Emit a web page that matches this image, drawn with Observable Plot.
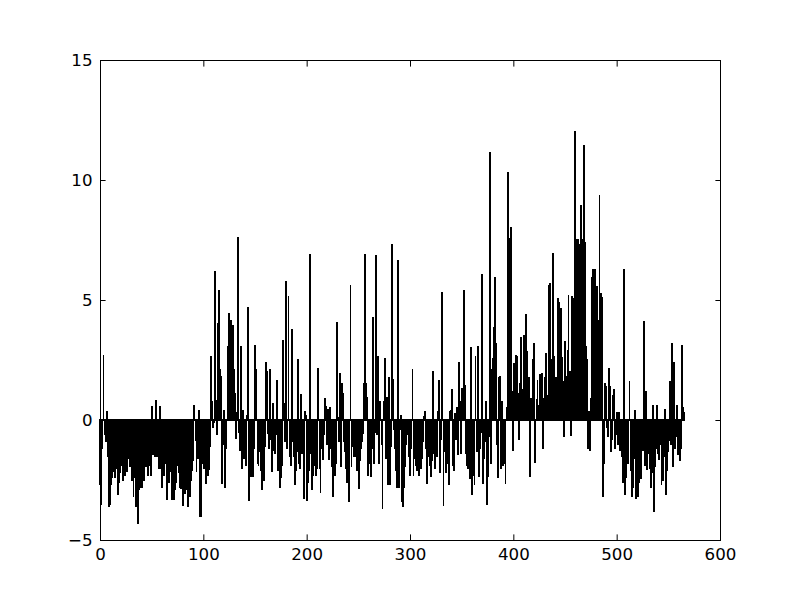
<!DOCTYPE html>
<html>
<head>
<meta charset="utf-8">
<script src="https://cdn.jsdelivr.net/npm/d3@7"></script>
<script src="https://cdn.jsdelivr.net/npm/@observablehq/plot@0.6"></script>
<style>
  html, body { margin: 0; padding: 0; background: #fff; }
  #chart { width: 800px; height: 600px; }
</style>
</head>
<body>
<div id="chart"></div>
<script>
const values = [
  -2.7, -3.5, -1.2, 2.7, -0.6, -0.9, 0.37, -1.5, -3.6, -3.5,
  -2.7, -2.4, -2.15, -1.3, -2.4, -2.0, -0.7, -3.1, -2.6, -2.2,
  -1.5, -1.9, -2.5, -1.8, -2.3, -1.2, -2.15, -1.6, -1.4, -1.95,
  -1.7, -2.5, -3.2, -2.4, -3.6, -2.9, -4.3, -2.9, -2.8, -2.2,
  -2.8, -2.4, -2.5, -1.6, -1.95, -1.9, -2.3, -0.7, -1.9, -2.3,
  0.55, -1.45, -1.1, -1.5, 0.8, -1.5, -0.55, -2.0, 0.55, -2.0,
  -2.8, -2.3, -2.3, -1.8, -3.3, -2.6, -2.6, -2.15, -1.7, -3.3,
  -3.05, -3.3, -2.9, -2.6, -1.9, -1.4, -2.2, -2.8, -2.85, -2.4,
  -3.55, -2.1, -3.05, -2.9, -2.4, -3.6, -2.0, -3.2, -2.5, -2.1,
  -1.7, 0.6, -0.85, -2.15, -1.6, 0.4, -4.0, -4.0, -1.4, -1.8,
  -2.0, -1.5, -2.65, -1.8, -2.3, -2.05, -1.1, 2.65, 0.75, -0.3,
  -0.1, 6.2, 0.8, -0.6, 4.0, 5.4, 2.1, 1.8, -2.65, -1.0,
  0.4, -2.8, -1.2, 3.05, 4.45, 2.8, 4.15, 1.5, 3.95, 2.1,
  1.1, -0.75, 0.3, 7.6, -0.5, -1.25, 3.05, -2.0, 0.4, -1.6,
  -0.85, -1.9, 0.2, 4.7, -3.35, -1.5, -2.35, -1.7, -2.35, -1.2,
  3.1, 2.1, -1.8, -1.9, -1.3, -2.1, -2.9, -1.6, -2.5, -1.1,
  2.4, 2.0, -0.55, -1.2, 2.1, -0.8, -2.15, 0.7, -1.25, -1.4,
  -0.6, 1.65, -2.1, -1.5, -2.8, -2.4, -1.9, 3.3, 0.7, -0.9,
  5.75, -1.2, 5.15, -1.5, -1.9, 3.75, -0.9, -1.5, -2.7, -2.1,
  -1.3, 2.5, -1.8, -2.0, 1.05, -1.4, -0.85, -3.25, 0.35, 0.2,
  -3.35, -2.6, -2.1, 6.9, -1.4, -2.9, -2.3, -1.5, -1.9, -2.3,
  -2.0, 2.15, -2.0, -3.0, -1.2, -1.65, -0.6, 0.9, 0.55, -1.0,
  0.45, -1.65, 0.5, -1.2, -1.95, -3.2, -1.1, -2.3, -1.8, 4.05,
  0.1, -0.9, 1.95, -1.95, 1.5, 1.1, -0.9, -1.3, -2.0, -2.6,
  -2.55, -3.4, 5.6, -1.95, -1.1, -1.5, -1.1, -1.5, -2.1, -1.4,
  -2.85, -1.7, -1.2, -0.9, -0.55, 1.5, 6.9, 1.5, 0.95, -2.3,
  -0.6, -1.8, -2.35, -1.2, 4.25, -1.8, -0.5, 6.85, -0.6, 2.65,
  -1.8, 0.75, -1.0, -3.7, 0.75, 2.55, -1.6, 0.95, -2.7, 1.75,
  -2.7, -1.1, 7.3, 1.7, -0.4, -1.2, -2.1, -2.8, 6.65, -2.8,
  -0.4, 0.2, -3.4, -3.6, -2.8, -1.95, -1.0, -0.4, -0.6, -1.5,
  -2.3, -1.2, 2.1, -2.3, -1.6, -1.9, -2.1, -1.4, -2.3, -1.7,
  -2.0, -1.6, -0.9, 0.15, 0.35, -1.2, -2.65, -1.5, -1.2, -1.9,
  -2.35, -1.7, 2.0, -1.4, -2.0, -0.9, -1.5, 0.35, 1.65, -2.2,
  -0.8, 5.3, -3.55, -1.3, -2.2, -1.8, -1.0, -2.7, 0.35, 0.4,
  1.25, -1.9, -2.1, 0.25, -0.8, 0.5, -1.45, 2.4, 0.75, -1.4,
  1.3, 0.6, 5.4, 1.45, -1.4, -1.9, -2.0, -1.5, -2.45, 3.0,
  -3.1, -2.3, -2.7, 2.65, -1.3, 3.05, -2.35, -1.2, -0.5, 6.05,
  -2.65, -1.6, -0.9, 0.75, -3.5, -2.35, -0.7, 11.15, -1.8, 2.1,
  2.55, 3.85, 5.95, 3.2, -1.0, -2.4, 1.75, 1.8, -2.0, 0.75,
  -1.9, -1.8, -2.65, 0.5, 10.3, 2.1, 7.55, 8.0, 1.2, -1.25,
  2.35, 2.0, 2.7, 2.65, 1.1, -0.8, 1.5, 3.45, 1.25, 0.8,
  3.5, 2.2, 4.4, 2.85, 1.3, 1.75, -2.35, 0.9, 0.5, 2.5,
  3.2, -1.75, 0.85, 1.65, 0.6, 1.9, 1.2, 1.95, -1.2, 0.9,
  1.75, 2.75, 1.0, 0.4, 5.6, 5.7, 2.5, 1.1, 6.95, 2.65,
  1.0, 1.75, 0.8, 5.05, 4.9, 2.2, 4.65, 2.6, 1.6, -0.7,
  3.25, 1.8, 2.9, 5.2, 2.0, -0.65, 5.15, 5.05, 3.6, 12.0,
  7.5, 6.9, 7.5, 7.3, 5.8, 8.95, 7.5, 6.4, 11.45, 7.4,
  3.05, 2.5, -1.2, 0.35, -1.25, 0.9, 5.95, 6.25, 5.0, 6.25,
  4.1, 5.55, 4.15, 9.35, 5.25, 5.1, -3.2, -1.8, 1.5, 1.4,
  -0.3, -0.7, 2.15, 1.4, -1.3, -0.8, 1.0, 1.25, -1.2, -0.6,
  0.3, -1.0, 0.3, -1.25, -0.9, -1.5, -2.6, 6.25, -3.1, -2.4,
  -1.5, -1.8, 1.6, -2.1, -3.2, -2.8, -1.6, 0.4, -3.25, -2.4,
  -3.2, -2.6, -1.7, -2.45, -1.0, -1.25, 4.1, -1.9, 1.2, -2.05,
  -1.4, -0.95, -2.0, -2.8, -2.2, 0.6, -3.8, -1.95, -1.2, 0.6,
  -1.4, -1.65, -1.0, -2.7, -2.5, -1.5, 0.45, -3.1, -2.1, -1.3,
  -0.85, 1.6, -1.0, 3.2, -1.95, 2.4, -1.2, -0.7, 0.6, -1.45,
  -0.9, -1.7, -1.2, 3.1, 0.5, 0.3
];
const xTicks = [0, 100, 200, 300, 400, 500, 600];
const yTicks = [-5, 0, 5, 10, 15];
const barWidth = 0.8;

const data = values.map((v, i) => ({i, v}));
const fmt = d => (d < 0 ? "\u2212" + Math.abs(d) : String(d));
const fontSize = 16.67;

const chart = Plot.plot({
  width: 800,
  height: 600,
  marginLeft: 100,
  marginRight: 80,
  marginTop: 60,
  marginBottom: 60,
  style: {fontFamily: "DejaVu Sans", fontSize: fontSize + "px", background: "#fff", color: "#000"},
  x: {domain: [0, 600], label: null},
  y: {domain: [-5, 15], label: null},
  marks: [
    Plot.rect(data, {x1: "i", x2: d => d.i + barWidth, y1: 0, y2: "v", fill: "black", stroke: "black", strokeWidth: 1.1, shapeRendering: "crispEdges"}),
    Plot.frame({stroke: "black", strokeWidth: 1}),
    Plot.axisX(xTicks, {anchor: "bottom", tickSize: 0, tickPadding: 8, tickFormat: fmt, fontSize: fontSize, label: null}),
    Plot.axisY(yTicks, {anchor: "left", tickSize: 0, tickPadding: 8, tickFormat: fmt, fontSize: fontSize, label: null}),
    Plot.axisX(xTicks, {anchor: "bottom", tickSize: -5.6, tickFormat: () => "", label: null}),
    Plot.axisX(xTicks, {anchor: "top", tickSize: -5.6, tickFormat: () => "", label: null}),
    Plot.axisY(yTicks, {anchor: "left", tickSize: -5.6, tickFormat: () => "", label: null}),
    Plot.axisY(yTicks, {anchor: "right", tickSize: -5.6, tickFormat: () => "", label: null})
  ]
});
document.getElementById("chart").appendChild(chart);
</script>
</body>
</html>
